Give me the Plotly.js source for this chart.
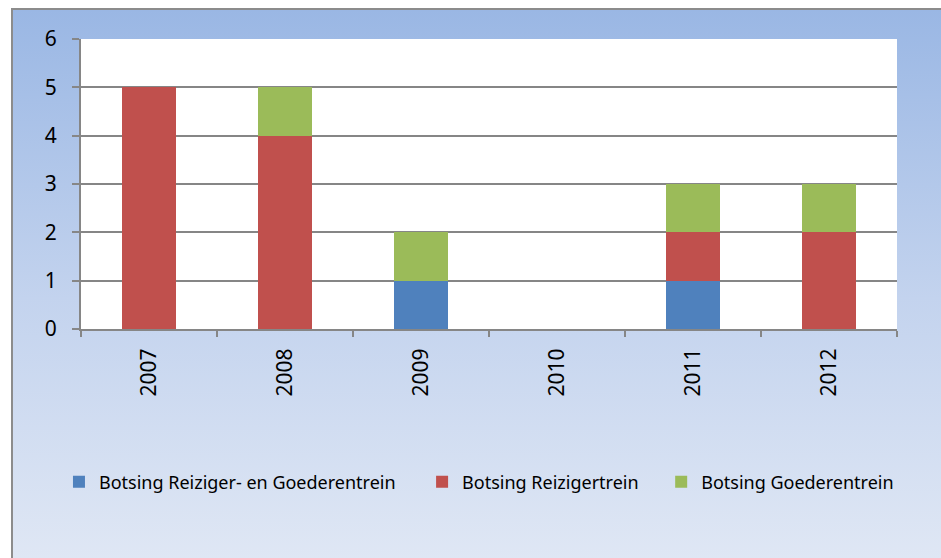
<!DOCTYPE html>
<html>
<head>
<meta charset="utf-8">
<script src="https://cdn.plot.ly/plotly-3.0.1.min.js"></script>
<style>
  html, body { margin: 0; padding: 0; background: #ffffff; overflow: hidden; }
  #frame {
    position: absolute; left: 11px; top: 8px; width: 960px; height: 580px;
    border: 2px solid #8c8c8c; box-sizing: border-box;
    background: linear-gradient(to bottom, #9ab7e4 0%, #c3d3ee 50%, #e2e9f5 100%);
  }
  #chart { position: absolute; left: 0; top: 0; width: 941px; height: 558px; }
</style>
</head>
<body>
<div id="frame"></div>
<div id="chart"></div>
<script>
const years = ['2007', '2008', '2009', '2010', '2011', '2012'];
const seriesNames = ['Botsing Reiziger- en Goederentrein', 'Botsing Reizigertrein', 'Botsing Goederentrein'];
const reizigerEnGoederen = [0, 0, 1, 0, 1, 0];
const reizigertrein = [5, 4, 0, 0, 1, 2];
const goederentrein = [0, 1, 1, 0, 1, 1];
const yTicks = [0, 1, 2, 3, 4, 5, 6];

const colors = ['#4f81bd', '#c0504d', '#9bbb59'];
const values = [reizigerEnGoederen, reizigertrein, goederentrein];
const legendIds = ['legend', 'legend2', 'legend3'];

const traces = values.map((v, i) => ({
  type: 'bar', x: years, y: v, name: seriesNames[i],
  marker: { color: colors[i], line: { width: 0 } },
  legend: legendIds[i], hoverinfo: 'skip'
}));

const fontFam = '"Noto Sans", "Open Sans", sans-serif';
const legendBase = {
  orientation: 'h', yanchor: 'middle', xanchor: 'left', y: -0.528,
  bgcolor: 'rgba(0,0,0,0)', borderwidth: 0,
  font: { family: fontFam, size: 18, color: '#000000' }
};

const layout = {
  width: 941, height: 558,
  margin: { l: 81, r: 44, t: 39, b: 229 },
  paper_bgcolor: 'rgba(0,0,0,0)',
  plot_bgcolor: '#ffffff',
  barmode: 'stack',
  bargap: 0.6,
  font: { family: fontFam, color: '#000000' },
  xaxis: {
    type: 'category', tickangle: -90, tickson: 'boundaries',
    ticks: 'outside', ticklen: 6, tickwidth: 2, tickcolor: '#868686',
    showline: true, linecolor: '#868686', linewidth: 2,
    showgrid: false, ticklabelstandoff: 9,
    tickfont: { family: fontFam, size: 21, color: '#000000' }
  },
  yaxis: {
    range: [0, 6], tickvals: yTicks, ticks: 'outside', ticklen: 7, tickwidth: 2,
    tickcolor: '#868686', showline: true, linecolor: '#868686', linewidth: 2,
    gridcolor: '#868686', gridwidth: 2, zeroline: false, ticklabelstandoff: 11,
    tickfont: { family: fontFam, size: 21, color: '#000000' }
  },
  legend: Object.assign({}, legendBase, { x: -0.027 }),
  legend2: Object.assign({}, legendBase, { x: 0.418 }),
  legend3: Object.assign({}, legendBase, { x: 0.711 }),
  showlegend: true
};

Plotly.newPlot('chart', traces, layout, { displayModeBar: false, staticPlot: true });
</script>
</body>
</html>
